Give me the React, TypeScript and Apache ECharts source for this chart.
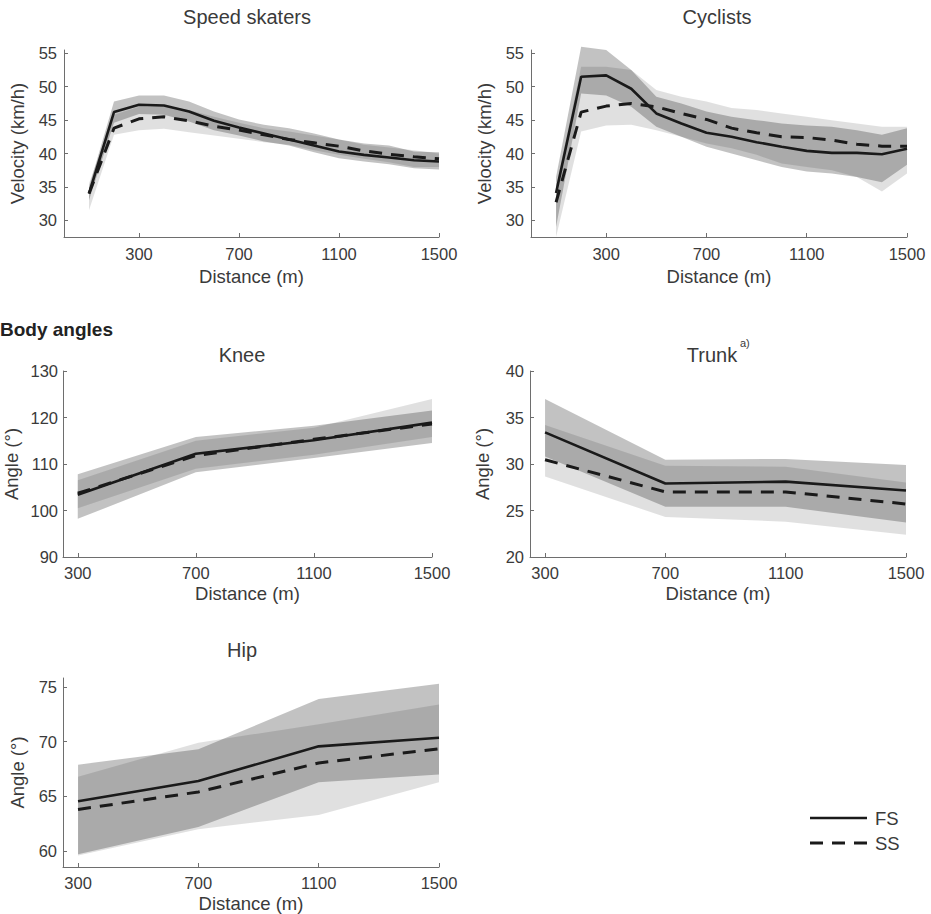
import React, { useEffect, useRef } from "react";
import * as echarts from "echarts";

// ---------- DATA ----------
const VEL_X = [100, 200, 300, 400, 500, 600, 700, 800, 900, 1000, 1100, 1200, 1300, 1400, 1500];
const ANG_X = [300, 700, 1100, 1500];
const X_TICKS = [300, 700, 1100, 1500];

// Speed skaters velocity (km/h)
const SKATE_FS = [34, 46.2, 47.3, 47.2, 46.3, 44.9, 43.9, 43.0, 42.1, 41.2, 40.3, 39.8, 39.4, 39.0, 38.8];
const SKATE_FS_HI = [35, 47.8, 48.7, 48.7, 47.8, 46.3, 45.1, 44.3, 43.8, 43.0, 42.1, 41.5, 41.2, 40.3, 40.2];
const SKATE_FS_LO = [33, 44.6, 45.9, 45.8, 44.8, 43.5, 42.7, 41.8, 41.2, 40.2, 39.3, 38.8, 38.4, 37.8, 37.6];
const SKATE_SS = [34, 43.8, 45.2, 45.5, 44.9, 44.1, 43.5, 42.8, 42.1, 41.6, 41.1, 40.4, 39.9, 39.5, 39.2];
const SKATE_SS_HI = [35.5, 45.8, 47.0, 47.2, 46.5, 45.5, 44.6, 43.8, 43.3, 42.7, 42.1, 41.3, 40.9, 40.5, 40.0];
const SKATE_SS_LO = [31.5, 42.8, 43.5, 43.7, 43.2, 42.7, 42.2, 41.7, 41.3, 40.5, 39.8, 39.2, 38.7, 38.0, 38.0];

// Cyclists velocity (km/h)
const CYC_FS = [34.1, 51.5, 51.7, 49.7, 46.0, 44.5, 43.1, 42.5, 41.7, 41.0, 40.4, 40.1, 40.1, 39.9, 40.7];
const CYC_FS_HI = [36.5, 56, 55.5, 52.5, 48.5, 47.5, 46.3, 45.5, 45, 44.5, 44.2, 44, 43.5, 42.8, 43.8];
const CYC_FS_LO = [29, 49, 48.7, 47, 44, 42.5, 41, 40, 39, 38, 37.3, 37, 36.5, 35.7, 38.3];
const CYC_SS = [32.7, 46.2, 47.1, 47.5, 47.0, 46.0, 45.1, 43.8, 43.1, 42.5, 42.4, 42.0, 41.4, 41.1, 41.1];
const CYC_SS_HI = [35, 53, 53, 52.5, 49.5, 48.5, 47.8, 46.8, 46.5, 46, 45.5, 45, 44.5, 44, 44];
const CYC_SS_LO = [27.5, 43.3, 44.2, 44.3, 43.5, 42.5, 41.5, 40.8, 39.8, 38.5, 38, 37.5, 36.5, 34.3, 37];

// Knee angle (deg)
const KNEE_FS = [103.4, 112.2, 115.1, 118.9];
const KNEE_FS_HI = [107.8, 115.8, 118.2, 121.5];
const KNEE_FS_LO = [98.2, 108.2, 111.3, 114.5];
const KNEE_SS = [103.7, 111.8, 115.3, 118.6];
const KNEE_SS_HI = [106.5, 115.0, 117.8, 124.0];
const KNEE_SS_LO = [100.5, 109.0, 112.0, 115.8];

// Trunk angle (deg)
const TRUNK_FS = [33.4, 27.9, 28.1, 27.15];
const TRUNK_FS_HI = [37.0, 30.45, 30.55, 29.9];
const TRUNK_FS_LO = [30.8, 25.4, 25.4, 23.7];
const TRUNK_SS = [30.45, 27.0, 27.0, 25.7];
const TRUNK_SS_HI = [34.2, 29.8, 29.7, 28.0];
const TRUNK_SS_LO = [28.65, 24.3, 23.8, 22.4];

// Hip angle (deg)
const HIP_FS = [64.55, 66.4, 69.57, 70.35];
const HIP_FS_HI = [67.9, 69.3, 73.9, 75.3];
const HIP_FS_LO = [59.7, 62.2, 66.3, 67.0];
const HIP_SS = [63.8, 65.4, 68.05, 69.35];
const HIP_SS_HI = [66.8, 69.9, 71.6, 73.4];
const HIP_SS_LO = [59.6, 62.0, 63.3, 66.3];

const VEL_Y_TICKS = [30, 35, 40, 45, 50, 55];
const KNEE_Y_TICKS = [90, 100, 110, 120, 130];
const TRUNK_Y_TICKS = [20, 25, 30, 35, 40];
const HIP_Y_TICKS = [60, 65, 70, 75];

// ---------- STYLE ----------
const FONT = "'Liberation Sans', Arial, Helvetica, sans-serif";
const TXT = "#3a3a3a";
const AX = "#6e6e6e";
const LINE = "#1a1a1a";
const FS_FILL = "rgba(0,0,0,0.24)";
const SS_FILL = "rgba(0,0,0,0.12)";
const DASH = [13, 9];

type Panel = {
  grid: { left: number; top: number; width: number; height: number };
  xMin: number; xMax: number; yMin: number; yMax: number;
  yTicks: number[]; yName: string; yNameGap: number; xNameGap: number; yLabelMargin: number; xLabelMargin: number;
  x: number[]; fs: number[]; fsHi: number[]; fsLo: number[]; ss: number[]; ssHi: number[]; ssLo: number[];
};

const PANELS: Panel[] = [
  { grid: { left: 64, top: 50, width: 375, height: 187 }, xMin: 0, xMax: 1500, yMin: 27.5, yMax: 55.5,
    yTicks: VEL_Y_TICKS, yName: "Velocity (km/h)", yNameGap: 37, xNameGap: 30, yLabelMargin: 7, xLabelMargin: 8,
    x: VEL_X, fs: SKATE_FS, fsHi: SKATE_FS_HI, fsLo: SKATE_FS_LO, ss: SKATE_SS, ssHi: SKATE_SS_HI, ssLo: SKATE_SS_LO },
  { grid: { left: 531, top: 50, width: 376, height: 187 }, xMin: 0, xMax: 1500, yMin: 27.5, yMax: 55.5,
    yTicks: VEL_Y_TICKS, yName: "Velocity (km/h)", yNameGap: 37, xNameGap: 30, yLabelMargin: 7, xLabelMargin: 8,
    x: VEL_X, fs: CYC_FS, fsHi: CYC_FS_HI, fsLo: CYC_FS_LO, ss: CYC_SS, ssHi: CYC_SS_HI, ssLo: CYC_SS_LO },
  { grid: { left: 63, top: 371, width: 369, height: 186 }, xMin: 250, xMax: 1500, yMin: 90, yMax: 130,
    yTicks: KNEE_Y_TICKS, yName: "Angle (°)", yNameGap: 42, xNameGap: 27, yLabelMargin: 5, xLabelMargin: 7,
    x: ANG_X, fs: KNEE_FS, fsHi: KNEE_FS_HI, fsLo: KNEE_FS_LO, ss: KNEE_SS, ssHi: KNEE_SS_HI, ssLo: KNEE_SS_LO },
  { grid: { left: 530, top: 371, width: 376, height: 186 }, xMin: 250, xMax: 1500, yMin: 20, yMax: 40,
    yTicks: TRUNK_Y_TICKS, yName: "Angle (°)", yNameGap: 38, xNameGap: 27, yLabelMargin: 6, xLabelMargin: 7,
    x: ANG_X, fs: TRUNK_FS, fsHi: TRUNK_FS_HI, fsLo: TRUNK_FS_LO, ss: TRUNK_SS, ssHi: TRUNK_SS_HI, ssLo: TRUNK_SS_LO },
  { grid: { left: 63, top: 678, width: 376, height: 189 }, xMin: 250, xMax: 1500, yMin: 58.54, yMax: 75.82,
    yTicks: HIP_Y_TICKS, yName: "Angle (°)", yNameGap: 36, xNameGap: 27, yLabelMargin: 6, xLabelMargin: 7,
    x: ANG_X, fs: HIP_FS, fsHi: HIP_FS_HI, fsLo: HIP_FS_LO, ss: HIP_SS, ssHi: HIP_SS_HI, ssLo: HIP_SS_LO },
];

function bandSeries(idx: number, x: number[], lo: number[], hi: number[], fill: string) {
  return {
    type: "custom",
    xAxisIndex: idx,
    yAxisIndex: idx,
    silent: true,
    z: 1,
    data: x.map((xv, i) => [xv, lo[i], hi[i]]),
    encode: { x: 0, y: [1, 2] },
    renderItem: (params: any, api: any) => {
      if (params.dataIndex !== 0) return null;
      const top = x.map((xv, i) => api.coord([xv, hi[i]]));
      const bottom = x.map((xv, i) => api.coord([xv, lo[i]])).reverse();
      return {
        type: "polygon",
        shape: { points: top.concat(bottom) },
        style: { fill, stroke: null },
      };
    },
  };
}

function lineSeries(idx: number, name: string, x: number[], y: number[], dashed: boolean) {
  return {
    type: "line",
    name,
    xAxisIndex: idx,
    yAxisIndex: idx,
    data: x.map((xv, i) => [xv, y[i]]),
    showSymbol: false,
    symbol: "none",
    z: 3,
    lineStyle: { color: LINE, width: dashed ? 3 : 2.6, type: dashed ? DASH : "solid", cap: "butt" },
  };
}

const plain = (v: number) => String(v);

export default function App() {
  const ref = useRef<HTMLDivElement>(null);
  useEffect(() => {
    if (!ref.current) return;
    const chart = echarts.init(ref.current, undefined, { renderer: "svg" });
    const grid: any[] = [];
    const xAxis: any[] = [];
    const yAxis: any[] = [];
    const series: any[] = [];
    PANELS.forEach((p, i) => {
      grid.push({ ...p.grid, outerBoundsMode: "none", containLabel: false });
      xAxis.push({
        type: "value", gridIndex: i, min: p.xMin, max: p.xMax,
        axisLine: { show: true, lineStyle: { color: AX, width: 1 } },
        axisTick: { show: true, inside: true, length: 4, customValues: X_TICKS, lineStyle: { color: AX } },
        axisLabel: { customValues: X_TICKS, formatter: plain, margin: p.xLabelMargin, fontSize: 16.5, color: TXT, fontFamily: FONT },
        splitLine: { show: false },
        name: "Distance (m)", nameLocation: "middle", nameGap: p.xNameGap,
        nameTextStyle: { fontSize: 18.5, color: TXT, fontFamily: FONT },
      });
      yAxis.push({
        type: "value", gridIndex: i, min: p.yMin, max: p.yMax,
        axisLine: { show: true, lineStyle: { color: AX, width: 1 } },
        axisTick: { show: true, inside: true, length: 4, customValues: p.yTicks, lineStyle: { color: AX } },
        axisLabel: { customValues: p.yTicks, formatter: plain, margin: p.yLabelMargin, fontSize: 16.5, color: TXT, fontFamily: FONT },
        splitLine: { show: false },
        name: p.yName, nameLocation: "middle", nameGap: p.yNameGap, nameRotate: 90,
        nameTextStyle: { fontSize: 18.5, color: TXT, fontFamily: FONT },
      });
      series.push(bandSeries(i, p.x, p.fsLo, p.fsHi, FS_FILL));
      series.push(bandSeries(i, p.x, p.ssLo, p.ssHi, SS_FILL));
      series.push(lineSeries(i, "FS", p.x, p.fs, false));
      series.push(lineSeries(i, "SS", p.x, p.ss, true));
    });

    const titleStyle = { fontSize: 20, fill: TXT, fontFamily: FONT, textAlign: "center", textVerticalAlign: "middle" };
    const graphic: any[] = [
      { type: "text", x: 247, y: 17, style: { ...titleStyle, text: "Speed skaters" } },
      { type: "text", x: 717, y: 17, style: { ...titleStyle, text: "Cyclists" } },
      { type: "text", x: 0, y: 329, style: { text: "Body angles", fontSize: 19, fontWeight: "bold", fill: "#222", fontFamily: FONT, textAlign: "left", textVerticalAlign: "middle" } },
      { type: "text", x: 242, y: 355, style: { ...titleStyle, text: "Knee" } },
      { type: "text", x: 712, y: 355, style: { ...titleStyle, text: "Trunk" } },
      { type: "text", x: 740, y: 343, style: { text: "a)", fontSize: 11, fill: TXT, fontFamily: FONT, textAlign: "left", textVerticalAlign: "middle" } },
      { type: "text", x: 242, y: 650, style: { ...titleStyle, text: "Hip" } },
      { type: "line", shape: { x1: 810, y1: 818, x2: 867, y2: 818 }, style: { stroke: LINE, lineWidth: 2.6 } },
      { type: "text", x: 875, y: 818, style: { text: "FS", fontSize: 18.5, fill: TXT, fontFamily: FONT, textAlign: "left", textVerticalAlign: "middle" } },
      { type: "line", shape: { x1: 810, y1: 843, x2: 867, y2: 843 }, style: { stroke: LINE, lineWidth: 3, lineDash: DASH } },
      { type: "text", x: 875, y: 843, style: { text: "SS", fontSize: 18.5, fill: TXT, fontFamily: FONT, textAlign: "left", textVerticalAlign: "middle" } },
    ];

    chart.setOption({
      animation: false,
      backgroundColor: "#ffffff",
      textStyle: { fontFamily: FONT },
      grid, xAxis, yAxis, series, graphic,
    });
    return () => chart.dispose();
  }, []);
  return <div ref={ref} style={{ position: "fixed", left: 0, top: 0, width: 931, height: 914, background: "#fff" }} />;
}
